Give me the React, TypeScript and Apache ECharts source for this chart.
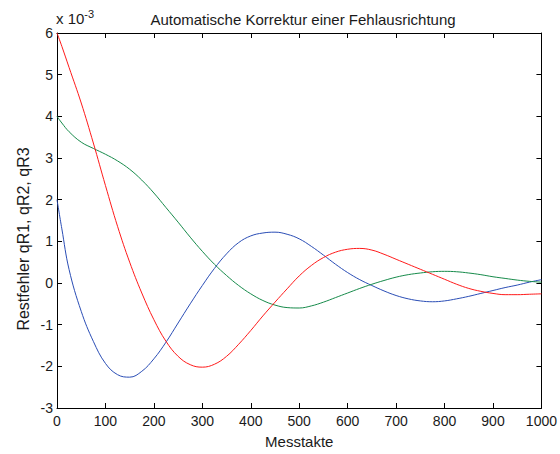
import React, { useEffect, useRef } from "react";
import * as echarts from "echarts";

const steps = [0, 10, 25, 50, 75, 100, 125, 150, 175, 200, 225, 250, 275, 300, 325, 350, 375, 400, 425, 450, 475, 500, 525, 550, 575, 600, 625, 650, 675, 700, 725, 750, 775, 800, 825, 850, 875, 900, 925, 950, 975, 1000];

const qR1 = [2.0, 1.3, 0.32, -0.68, -1.4, -1.93, -2.2, -2.26, -2.12, -1.82, -1.42, -0.96, -0.5, -0.06, 0.35, 0.7, 0.97, 1.13, 1.2, 1.22, 1.17, 1.06, 0.88, 0.67, 0.45, 0.25, 0.08, -0.06, -0.19, -0.3, -0.38, -0.43, -0.45, -0.43, -0.38, -0.32, -0.25, -0.18, -0.11, -0.05, 0.02, 0.08];

const qR2 = [4.0, 3.84, 3.63, 3.38, 3.23, 3.09, 2.93, 2.73, 2.47, 2.16, 1.81, 1.46, 1.1, 0.76, 0.45, 0.18, -0.06, -0.26, -0.42, -0.53, -0.59, -0.6, -0.55, -0.46, -0.35, -0.24, -0.13, -0.03, 0.06, 0.14, 0.2, 0.24, 0.27, 0.28, 0.27, 0.24, 0.2, 0.15, 0.11, 0.07, 0.04, 0.02];

const qR3 = [6.0, 5.68, 5.17, 4.32, 3.36, 2.34, 1.36, 0.5, -0.24, -0.88, -1.4, -1.76, -1.96, -2.02, -1.95, -1.76, -1.47, -1.14, -0.79, -0.46, -0.14, 0.17, 0.42, 0.61, 0.74, 0.81, 0.83, 0.79, 0.69, 0.57, 0.45, 0.33, 0.21, 0.09, -0.03, -0.13, -0.2, -0.25, -0.28, -0.28, -0.27, -0.26];

const xTicks = { min: 0, max: 1000, interval: 100 };
const yTicks = { min: -3, max: 6, interval: 1 };

const FONT = "Liberation Sans, Arial, sans-serif";
const NARROW = "Liberation Sans Narrow, Arial Narrow, Liberation Sans, sans-serif";
const INK = "#1a1a1a";

export default function App() {
  const ref = useRef<HTMLDivElement>(null);
  useEffect(() => {
    if (!ref.current) return;
    const chart = echarts.init(ref.current, undefined, { renderer: "svg", width: 560, height: 454 });
    const pairs = (ys: number[]) => steps.map((x, i) => [x, ys[i]]);
    const axisLine = { show: true, onZero: false, lineStyle: { color: "#000", width: 1 } };
    const tick = { show: true, inside: true, length: 5, lineStyle: { color: "#000", width: 1 } };
    const label = { color: INK, fontSize: 14, fontFamily: NARROW, formatter: (v: number) => String(v) };
    const line = (name: string, ys: number[], color: string) => ({
      name,
      type: "line",
      data: pairs(ys),
      smooth: 0.4,
      showSymbol: false,
      lineStyle: { color, width: 1 },
      itemStyle: { color },
    });
    chart.setOption({
      animation: false,
      backgroundColor: "#fff",
      title: {
        text: "Automatische Korrektur einer Fehlausrichtung",
        left: 298,
        top: 7,
        textAlign: "center",
        textStyle: { fontSize: 15, fontWeight: "normal", color: INK, fontFamily: FONT },
      },
      graphic: [
        {
          type: "text",
          left: 56,
          top: 8,
          style: {
            text: "x 10{s|-3}",
            fill: INK,
            font: "15px " + FONT,
            rich: { s: { fontSize: 11, fill: INK, fontFamily: FONT, verticalAlign: "top", padding: [0, 0, 9, 0] } },
          },
        },
        {
          type: "text",
          x: 23,
          y: 239,
          rotation: Math.PI / 2,
          style: {
            text: "Restfehler qR1, qR2, qR3",
            fill: INK,
            font: "16px " + FONT,
            textAlign: "center",
            textVerticalAlign: "middle",
          },
        },
      ],
      grid: { left: 57, right: 18, top: 33, bottom: 39, containLabel: false },
      xAxis: [
        {
          type: "value",
          ...xTicks,
          name: "Messtakte",
          nameLocation: "middle",
          nameGap: 26,
          nameTextStyle: { fontSize: 15, color: INK, fontFamily: FONT },
          axisLine,
          axisTick: tick,
          axisLabel: { ...label, margin: 6 },
          splitLine: { show: false },
        },
        {
          type: "value",
          position: "top",
          ...xTicks,
          axisLine,
          axisTick: tick,
          axisLabel: { show: false },
          splitLine: { show: false },
        },
      ],
      yAxis: [
        {
          type: "value",
          ...yTicks,
          axisLine,
          axisTick: tick,
          axisLabel: { ...label, margin: 4 },
          splitLine: { show: false },
        },
        {
          type: "value",
          position: "right",
          ...yTicks,
          axisLine,
          axisTick: tick,
          axisLabel: { show: false },
          splitLine: { show: false },
        },
      ],
      series: [
        line("qR1", qR1, "#2a4db5"),
        line("qR2", qR2, "#168a4a"),
        line("qR3", qR3, "#ff1a1a"),
      ],
    });
    return () => chart.dispose();
  }, []);
  return <div ref={ref} style={{ position: "fixed", left: 0, top: 0, width: 560, height: 454 }} />;
}
